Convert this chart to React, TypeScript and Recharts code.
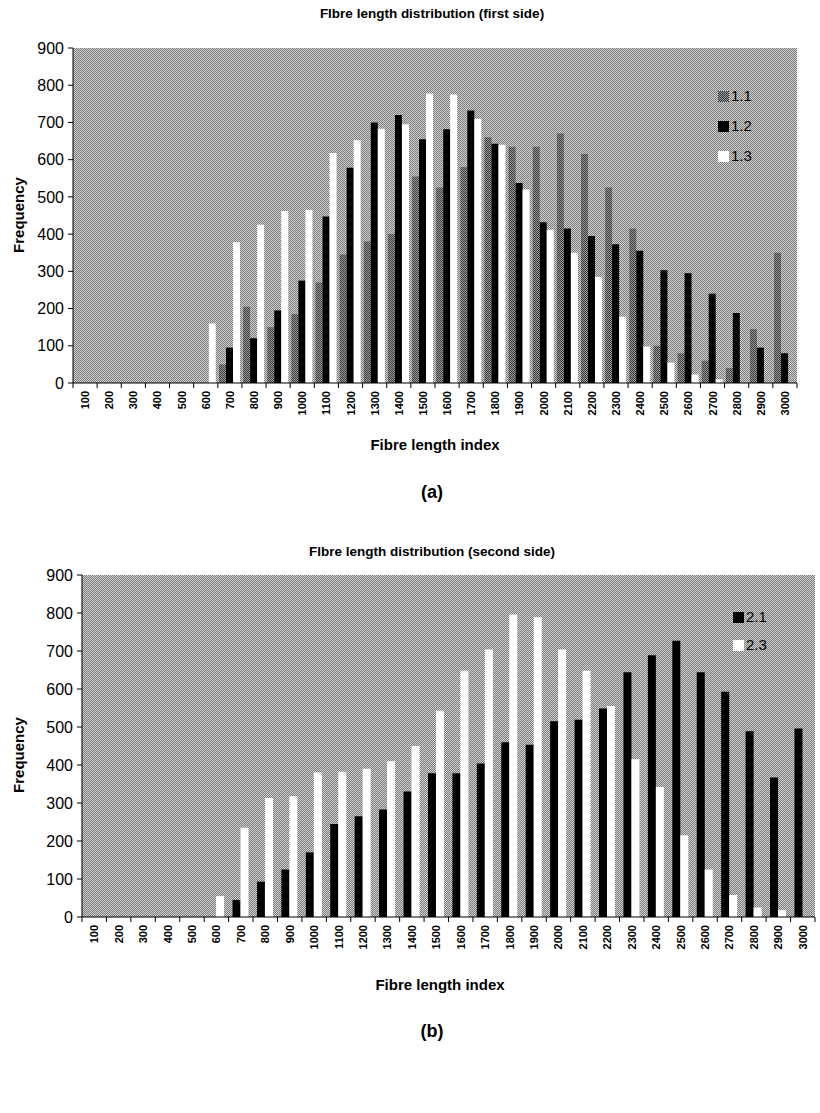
import { Bar, BarChart, CartesianGrid, XAxis, YAxis } from "recharts";

const categories = [
  "100", "200", "300", "400", "500", "600", "700", "800", "900", "1000",
  "1100", "1200", "1300", "1400", "1500", "1600", "1700", "1800", "1900", "2000",
  "2100", "2200", "2300", "2400", "2500", "2600", "2700", "2800", "2900", "3000",
];

// first side
const s11 = [0, 0, 0, 0, 0, 0, 50, 205, 150, 185, 270, 345, 380, 400, 555, 525, 580, 660, 635, 635, 670, 615, 525, 415, 100, 80, 60, 40, 145, 350];
const s12 = [0, 0, 0, 0, 0, 0, 95, 120, 195, 275, 447, 578, 700, 720, 655, 682, 732, 643, 537, 432, 415, 395, 373, 355, 303, 295, 240, 188, 95, 80];
const s13 = [0, 0, 0, 0, 0, 160, 378, 425, 462, 465, 618, 652, 683, 695, 778, 775, 710, 640, 520, 412, 350, 285, 178, 98, 55, 23, 10, 0, 0, 0];

// second side
const s21 = [0, 0, 0, 0, 0, 0, 45, 93, 125, 170, 245, 265, 283, 330, 378, 378, 404, 460, 453, 515, 519, 549, 644, 689, 727, 644, 593, 489, 367, 496];
const s23 = [0, 0, 0, 0, 0, 55, 235, 313, 318, 380, 382, 390, 410, 450, 543, 648, 704, 796, 789, 704, 648, 555, 415, 342, 215, 125, 58, 25, 18, 0];

const yTicks = [0, 100, 200, 300, 400, 500, 600, 700, 800, 900];

const firstData = categories.map((c, i) => ({ idx: c, a: s11[i], b: s12[i], c: s13[i] }));
const secondData = categories.map((c, i) => ({ idx: c, a: s21[i], b: s23[i] }));

const FONT = '"Liberation Sans", Arial, sans-serif';

function makeTick(band: number) {
  return function XTick(props: any) {
    const { x, y, payload, index } = props;
    return (
      <g>
        <line x1={x - band / 2} x2={x - band / 2} y1={y} y2={y + 5} stroke="#000" />
        {index === categories.length - 1 && (
          <line x1={x + band / 2} x2={x + band / 2} y1={y} y2={y + 5} stroke="#000" />
        )}
        <text
          transform={`translate(${x + 4},${y + 8}) rotate(-90)`}
          textAnchor="end"
          fontSize={11}
          fontWeight="bold"
          fontFamily={FONT}
          fill="#000"
        >
          {payload.value}
        </text>
      </g>
    );
  };
}

const abs = (top: number, left: number, extra: any = {}) => ({
  position: "absolute" as const,
  top,
  left,
  fontFamily: FONT,
  color: "#000",
  ...extra,
});

function Swatch({ fill }: { fill: string }) {
  return (
    <svg width={11} height={11} style={{ display: "block" }}>
      <rect width={11} height={11} fill={fill} />
    </svg>
  );
}

export default function App() {
  return (
    <div style={{ position: "absolute", top: 0, left: 0, width: 820, height: 1113, background: "#fff" }}>
      <svg width={0} height={0} style={{ position: "absolute" }}>
        <defs>
          <pattern id="bgDither" width={2} height={2} patternUnits="userSpaceOnUse">
            <rect width={2} height={2} fill="#d2d2d2" />
            <rect width={1} height={1} fill="#7a7a7a" />
            <rect x={1} y={1} width={1} height={1} fill="#7a7a7a" />
          </pattern>
          <pattern id="barDither" width={2} height={2} patternUnits="userSpaceOnUse">
            <rect width={2} height={2} fill="#9a9a9a" />
            <rect width={1} height={1} fill="#383838" />
            <rect x={1} y={1} width={1} height={1} fill="#383838" />
          </pattern>
        </defs>
      </svg>

      {/* (a) first side */}
      <div style={abs(6, 0, { width: 864, textAlign: "center", fontSize: 13.5, fontWeight: "bold" })}>
        Flbre length distribution (first side)
      </div>
      <div style={{ position: "absolute", top: 0, left: 0 }}>
        <BarChart
          width={820}
          height={470}
          data={firstData}
          margin={{ top: 48, right: 23, left: 23, bottom: 0 }}
          barCategoryGap="5%"
          barGap={0}
        >
          <CartesianGrid horizontal={false} vertical={false} fill="url(#bgDither)" />
          <XAxis
            dataKey="idx"
            interval={0}
            height={87}
            tickLine={false}
            tickSize={0}
            tickMargin={0}
            axisLine={{ stroke: "#000" }}
            tick={makeTick(724 / 30)}
          />
          <YAxis
            domain={[0, 900]}
            ticks={yTicks}
            width={50}
            tickSize={5}
            tickMargin={4}
            axisLine={{ stroke: "#000" }}
            tickLine={{ stroke: "#000" }}
            tick={{ fill: "#000", fontSize: 16, fontFamily: FONT }}
          />
          <Bar dataKey="a" name="1.1" fill="url(#barDither)" isAnimationActive={false} />
          <Bar dataKey="b" name="1.2" fill="#000" isAnimationActive={false} />
          <Bar dataKey="c" name="1.3" fill="#fff" isAnimationActive={false} />
        </BarChart>
      </div>
      <div style={abs(81, 718, { fontSize: 15, lineHeight: "30px" })}>
        {[["url(#barDither)", "1.1"], ["#000", "1.2"], ["#fff", "1.3"]].map(([f, t]) => (
          <div key={t} style={{ display: "flex", alignItems: "center", gap: 2 }}>
            <Swatch fill={f} />
            <span>{t}</span>
          </div>
        ))}
      </div>
      <div
        style={abs(215, 18, {
          fontSize: 15,
          fontWeight: "bold",
          transform: "translate(-50%, -50%) rotate(-90deg)",
          whiteSpace: "nowrap",
        })}
      >
        Frequency
      </div>
      <div style={abs(436, 0, { width: 870, textAlign: "center", fontSize: 15, fontWeight: "bold" })}>
        Fibre length index
      </div>
      <div style={abs(482, 0, { width: 864, textAlign: "center", fontSize: 18, fontWeight: "bold" })}>
        (a)
      </div>

      {/* (b) second side */}
      <div style={abs(544, 0, { width: 864, textAlign: "center", fontSize: 13.5, fontWeight: "bold" })}>
        Flbre length distribution (second side)
      </div>
      <div style={{ position: "absolute", top: 527, left: 0 }}>
        <BarChart
          width={820}
          height={477}
          data={secondData}
          margin={{ top: 48, right: 5, left: 32, bottom: 0 }}
          barCategoryGap="16%"
          barGap={0}
        >
          <CartesianGrid horizontal={false} vertical={false} fill="url(#bgDither)" />
          <XAxis
            dataKey="idx"
            interval={0}
            height={87}
            tickLine={false}
            tickSize={0}
            tickMargin={0}
            axisLine={{ stroke: "#000" }}
            tick={makeTick(733 / 30)}
          />
          <YAxis
            domain={[0, 900]}
            ticks={yTicks}
            width={50}
            tickSize={5}
            tickMargin={4}
            axisLine={{ stroke: "#000" }}
            tickLine={{ stroke: "#000" }}
            tick={{ fill: "#000", fontSize: 16, fontFamily: FONT }}
          />
          <Bar dataKey="a" name="2.1" fill="#000" isAnimationActive={false} />
          <Bar dataKey="b" name="2.3" fill="#fff" isAnimationActive={false} />
        </BarChart>
      </div>
      <div style={abs(603, 733, { fontSize: 15, lineHeight: "28px" })}>
        {[["#000", "2.1"], ["#fff", "2.3"]].map(([f, t]) => (
          <div key={t} style={{ display: "flex", alignItems: "center", gap: 2 }}>
            <Swatch fill={f} />
            <span>{t}</span>
          </div>
        ))}
      </div>
      <div
        style={abs(755, 18, {
          fontSize: 15,
          fontWeight: "bold",
          transform: "translate(-50%, -50%) rotate(-90deg)",
          whiteSpace: "nowrap",
        })}
      >
        Frequency
      </div>
      <div style={abs(976, 0, { width: 880, textAlign: "center", fontSize: 15, fontWeight: "bold" })}>
        Fibre length index
      </div>
      <div style={abs(1021, 0, { width: 864, textAlign: "center", fontSize: 18, fontWeight: "bold" })}>
        (b)
      </div>
    </div>
  );
}
